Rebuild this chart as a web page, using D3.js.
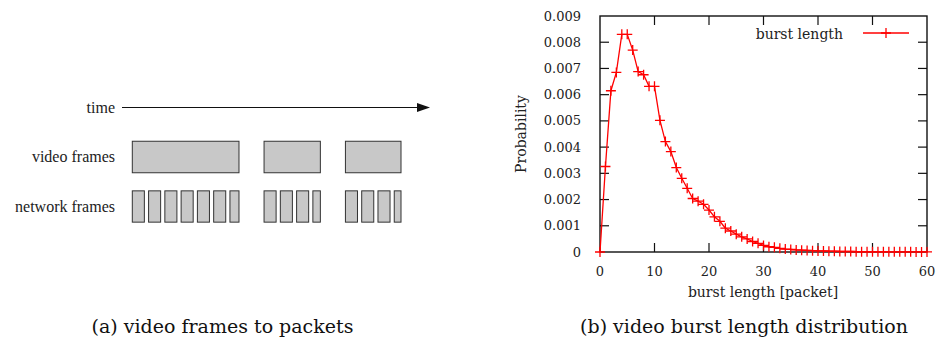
<!DOCTYPE html>
<html>
<head>
<meta charset="utf-8">
<script src="https://cdn.jsdelivr.net/npm/d3@7"></script>
<style>
  html, body { margin: 0; padding: 0; background: #fff; }
  svg { display: block; }
</style>
</head>
<body>
<svg id="chart" width="937" height="346"></svg>
<script>
// ---------- data ----------
// (a) left diagram: packet sizes (fraction of a full network packet) for each video frame
const frameLabels = ["frame 1", "frame 2", "frame 3"];
const framePackets = [
  [1, 1, 1, 1, 1, 1, 0.75],
  [1, 1, 1, 0.62],
  [1, 1, 1, 0.56]
];
const rowLabels = ["time", "video frames", "network frames"];

// (b) right chart: burst length distribution
const burstLength = [0,1,2,3,4,5,6,7,8,9,10,11,12,13,14,15,16,17,18,19,20,
  21,22,23,24,25,26,27,28,29,30,31,32,33,34,35,36,37,38,39,40,
  41,42,43,44,45,46,47,48,49,50,51,52,53,54,55,56,57,58,59,60];
const probability = [0, 0.00326, 0.00615, 0.00685, 0.0083, 0.0083, 0.0077, 0.00688, 0.00676, 0.00632, 0.00632,
  0.00502, 0.00421, 0.00383, 0.00322, 0.00281, 0.00243, 0.00204, 0.00194, 0.00182, 0.0016,
  0.00134, 0.00117, 0.00091, 0.0008, 0.00068, 0.00058, 0.0005, 0.0004, 0.00033, 0.00025,
  0.0002, 0.00018, 0.00014, 0.00011, 0.0001, 0.00008, 0.00007, 0.00006, 0.00005, 0.00004,
  0.00004, 0.00003, 0.00003, 0.00002, 0.00002, 0.00002, 0.00001, 0.00001, 0.00001, 0.00001,
  0.00001, 0.00001, 0.000005, 0.000005, 0.000005, 0.000005, 0.000005, 0.000003, 0.000003, 0.000003];
const xTicks = [0, 10, 20, 30, 40, 50, 60];
const yTicks = [0, 0.001, 0.002, 0.003, 0.004, 0.005, 0.006, 0.007, 0.008, 0.009];
const yTickLabels = ["0", "0.001", "0.002", "0.003", "0.004", "0.005", "0.006", "0.007", "0.008", "0.009"];
const seriesName = "burst length";
const xTitle = "burst length [packet]";
const yTitle = "Probability";
const captions = ["(a) video frames to packets", "(b) video burst length distribution"];

// ---------- drawing ----------
const svg = d3.select("#chart");
const leftFont = "'Liberation Serif', 'Times New Roman', serif";
const rightFont = "'DejaVu Serif', serif";

// ===== (a) diagram =====
const pktGap = 0.35;    // gap between packets, in packet units
const frameGap = 2.08;  // gap between frames, in packet units
const layout = [];
let cursor = 0;
framePackets.forEach((pk, i) => {
  const start = cursor;
  const pkts = [];
  pk.forEach((w, j) => {
    pkts.push({ start: cursor, end: cursor + w });
    cursor += w + (j < pk.length - 1 ? pktGap : 0);
  });
  layout.push({ label: frameLabels[i], start, end: cursor, pkts });
  cursor += frameGap;
});
const totalUnits = cursor - frameGap;
const tScale = d3.scaleLinear().domain([0, totalUnits]).range([132.3, 401]);

const gA = svg.append("g");
const rowY = d3.scalePoint().domain(rowLabels).range([107.5, 206.5]);
// row labels
gA.selectAll("text.row").data(rowLabels).join("text")
  .attr("class", "row")
  .attr("x", 115)
  .attr("y", d => rowY(d))
  .attr("dy", "0.33em")
  .attr("text-anchor", "end")
  .attr("font-family", leftFont)
  .attr("font-size", 16)
  .attr("fill", "#222")
  .text(d => d);

// time arrow
gA.append("line")
  .attr("x1", 122).attr("x2", 420)
  .attr("y1", rowY("time")).attr("y2", rowY("time"))
  .attr("stroke", "#111").attr("stroke-width", 1.2);
gA.append("path")
  .attr("d", `M430,${rowY("time")} L417,${rowY("time") - 4.5} L417,${rowY("time") + 4.5} Z`)
  .attr("fill", "#111");

// video frames
const vfH = 31.5, nfH = 31.3;
gA.selectAll("rect.vf").data(layout).join("rect")
  .attr("class", "vf")
  .attr("x", d => tScale(d.start))
  .attr("width", d => tScale(d.end) - tScale(d.start))
  .attr("y", rowY("video frames") - vfH / 2)
  .attr("height", vfH)
  .attr("fill", "#c8c8c8")
  .attr("stroke", "#333")
  .attr("stroke-width", 1);

// network frames
const allPkts = layout.flatMap(f => f.pkts);
gA.selectAll("rect.nf").data(allPkts).join("rect")
  .attr("class", "nf")
  .attr("x", d => tScale(d.start))
  .attr("width", d => tScale(d.end) - tScale(d.start))
  .attr("y", rowY("network frames") - nfH / 2)
  .attr("height", nfH)
  .attr("fill", "#c8c8c8")
  .attr("stroke", "#333")
  .attr("stroke-width", 1);

// ===== (b) chart =====
const x = d3.scaleLinear().domain([0, 60]).range([600, 927]);
const y = d3.scaleLinear().domain([0, 0.009]).range([252, 16]);
const gB = svg.append("g");

const tickLen = 9;
// inward ticks on all four sides
gB.selectAll("line.yl").data(yTicks.slice(1, -1)).join("line")
  .attr("x1", x(0)).attr("x2", x(0) + tickLen)
  .attr("y1", d => y(d)).attr("y2", d => y(d))
  .attr("stroke", "#111").attr("stroke-width", 1.2);
gB.selectAll("line.yr").data(yTicks.slice(1, -1)).join("line")
  .attr("x1", x(60)).attr("x2", x(60) - tickLen)
  .attr("y1", d => y(d)).attr("y2", d => y(d))
  .attr("stroke", "#111").attr("stroke-width", 1.2);
gB.selectAll("line.xb").data(xTicks.slice(1, -1)).join("line")
  .attr("x1", d => x(d)).attr("x2", d => x(d))
  .attr("y1", y(0)).attr("y2", y(0) - tickLen)
  .attr("stroke", "#111").attr("stroke-width", 1.2);
gB.selectAll("line.xt").data(xTicks.slice(1, -1)).join("line")
  .attr("x1", d => x(d)).attr("x2", d => x(d))
  .attr("y1", y(0.009)).attr("y2", y(0.009) + tickLen)
  .attr("stroke", "#111").attr("stroke-width", 1.2);

// frame
gB.append("rect")
  .attr("x", x(0)).attr("y", y(0.009))
  .attr("width", x(60) - x(0)).attr("height", y(0) - y(0.009))
  .attr("fill", "none").attr("stroke", "#111").attr("stroke-width", 1.4);

// tick labels
gB.selectAll("text.yt").data(yTicks).join("text")
  .attr("class", "yt")
  .attr("x", 581)
  .attr("y", d => y(d))
  .attr("dy", "0.35em")
  .attr("text-anchor", "end")
  .attr("font-family", rightFont)
  .attr("font-size", 13)
  .attr("fill", "#222")
  .text((d, i) => yTickLabels[i]);
gB.selectAll("text.xt").data(xTicks).join("text")
  .attr("class", "xt")
  .attr("x", d => x(d))
  .attr("y", 276)
  .attr("text-anchor", "middle")
  .attr("font-family", rightFont)
  .attr("font-size", 13)
  .attr("fill", "#222")
  .text(d => d);

// axis titles
gB.append("text")
  .attr("x", 763).attr("y", 297)
  .attr("text-anchor", "middle")
  .attr("font-family", rightFont).attr("font-size", 14).attr("fill", "#222")
  .text(xTitle);
gB.append("text")
  .attr("transform", "translate(526,134) rotate(-90)")
  .attr("text-anchor", "middle")
  .attr("font-family", rightFont).attr("font-size", 14).attr("fill", "#222")
  .text(yTitle);

// series line
const red = "#ff0000";
const pts = burstLength.map((b, i) => ({ b, p: probability[i] }));
gB.append("path")
  .datum(pts)
  .attr("d", d3.line().x(d => x(d.b)).y(d => y(d.p)))
  .attr("fill", "none").attr("stroke", red).attr("stroke-width", 1.3);

// plus markers
const m = 5;
const plus = (cx, cy) => `M${cx - m},${cy}H${cx + m}M${cx},${cy - m}V${cy + m}`;
gB.append("path")
  .attr("d", pts.map(d => plus(x(d.b), y(d.p))).join(""))
  .attr("fill", "none").attr("stroke", red).attr("stroke-width", 1.3);

// legend
gB.append("text")
  .attr("x", 843).attr("y", 34).attr("dy", "0.33em")
  .attr("text-anchor", "end")
  .attr("font-family", rightFont).attr("font-size", 14).attr("fill", "#222")
  .text(seriesName);
gB.append("line")
  .attr("x1", 863).attr("x2", 909).attr("y1", 33).attr("y2", 33)
  .attr("stroke", red).attr("stroke-width", 1.3);
gB.append("path")
  .attr("d", plus(886, 33))
  .attr("fill", "none").attr("stroke", red).attr("stroke-width", 1.3);

// captions
svg.selectAll("text.cap").data(captions).join("text")
  .attr("class", "cap")
  .attr("x", (d, i) => [222.5, 744][i])
  .attr("y", 333)
  .attr("text-anchor", "middle")
  .attr("font-family", rightFont)
  .attr("font-size", 19)
  .attr("fill", "#111")
  .text(d => d);
</script>
</body>
</html>
